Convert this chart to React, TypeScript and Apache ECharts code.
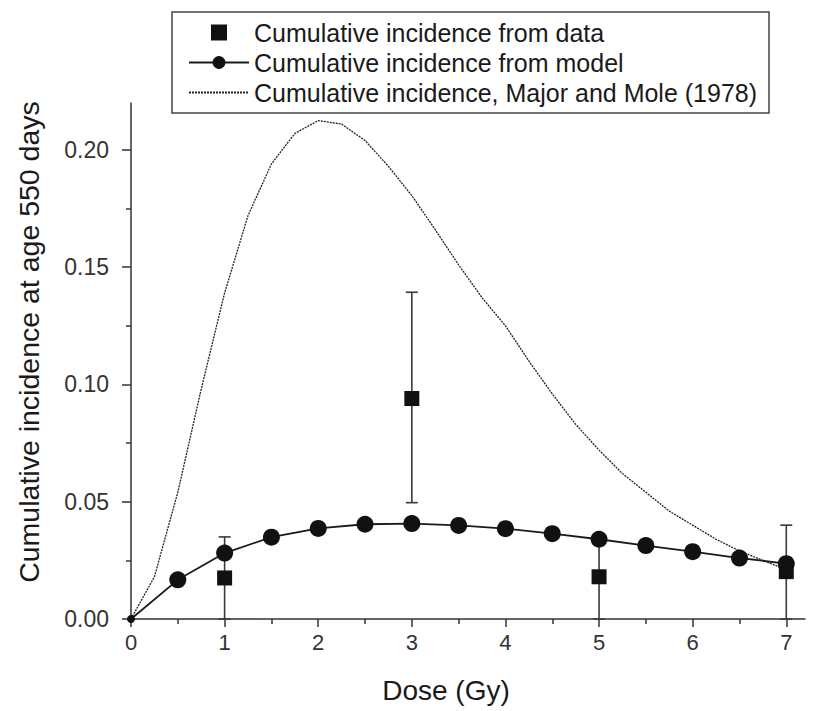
import React, { useEffect, useRef } from "react";
import * as echarts from "echarts";

// Observed data (squares with error bars)
const dataDose = [1, 3, 5, 7];
const dataIncidence = [0.0175, 0.094, 0.018, 0.0202];
const dataLow = [0, 0.0496, 0, 0];
const dataHigh = [0.035, 0.1393, 0.034, 0.0400];

// Model (circles)
const modelDose = [0, 0.5, 1, 1.5, 2, 2.5, 3, 3.5, 4, 4.5, 5, 5.5, 6, 6.5, 7];
const modelIncidence = [0, 0.0167, 0.0281, 0.0349, 0.0386, 0.0404, 0.0407, 0.0399, 0.0385, 0.0364, 0.0340, 0.0313, 0.0287, 0.0260, 0.0236];

// Major and Mole (1978) curve
const mmDose = [0, 0.25, 0.5, 0.75, 1, 1.25, 1.5, 1.75, 2, 2.25, 2.5, 2.75, 3, 3.25, 3.5, 3.75, 4, 4.25, 4.5, 4.75, 5, 5.25, 5.5, 5.75, 6, 6.25, 6.5, 6.75, 7];
const mmIncidence = [0, 0.018, 0.054, 0.098, 0.139, 0.172, 0.194, 0.207, 0.2125, 0.211, 0.204, 0.193, 0.1805, 0.166, 0.151, 0.137, 0.125, 0.110, 0.096, 0.083, 0.072, 0.062, 0.054, 0.046, 0.040, 0.034, 0.029, 0.025, 0.021];

const xMajor = [0, 1, 2, 3, 4, 5, 6, 7];
const xMinor = [0.5, 1.5, 2.5, 3.5, 4.5, 5.5, 6.5];
const yMajor = [0, 0.05, 0.1, 0.15, 0.2];
const yMinor = [0.025, 0.075, 0.125, 0.175];

const S1 = "Cumulative incidence from data";
const S2 = "Cumulative incidence from model";
const S3 = "Cumulative incidence, Major and Mole (1978)";
const X_TITLE = "Dose (Gy)";
const Y_TITLE = "Cumulative incidence at age 550 days";

const FONT = "'Liberation Sans', Arial, Helvetica, sans-serif";
const INK = "#1a1a1a";
const AX = "#333";

export default function App() {
  const ref = useRef<HTMLDivElement>(null);
  useEffect(() => {
    if (!ref.current) return;
    const chart = echarts.init(ref.current, null, { renderer: "svg" });
    const errData = dataDose.map((d, i) => [d, dataLow[i], dataHigh[i]]);
    const axisLineStyle = { color: AX, width: 1.5 };
    chart.setOption({
      animation: false,
      backgroundColor: "#fff",
      textStyle: { fontFamily: FONT },
      grid: { left: 131, right: 21, top: 103, bottom: 92, containLabel: false },
      legend: {
        orient: "vertical",
        left: 172,
        top: 12,
        padding: [8, 12, 8, 16],
        itemWidth: 60,
        itemHeight: 16,
        itemGap: 5,
        borderColor: "#444",
        borderWidth: 1.5,
        textStyle: { fontSize: 25, color: INK, fontFamily: FONT },
        data: [
          { name: S1, icon: "path://M0 0H10V10H0Z" },
          { name: S2 },
          { name: S3, itemStyle: { opacity: 0 } },
        ],
      },
      graphic: [
        {
          type: "text",
          x: 446,
          y: 690,
          silent: true,
          style: {
            text: X_TITLE,
            font: `28px ${FONT}`,
            fill: INK,
            align: "center",
            verticalAlign: "middle",
            textAlign: "center",
            textVerticalAlign: "middle",
          },
        },
        {
          type: "text",
          x: 29,
          y: 342,
          rotation: Math.PI / 2,
          silent: true,
          style: {
            text: Y_TITLE,
            font: `28.5px ${FONT}`,
            fill: INK,
            align: "center",
            verticalAlign: "middle",
            textAlign: "center",
            textVerticalAlign: "middle",
          },
        },
      ],
      xAxis: [
        {
          type: "value",
          min: 0,
          max: 7.2,
          axisLine: { show: true, lineStyle: axisLineStyle },
          axisTick: { show: true, length: 8, customValues: xMajor, lineStyle: axisLineStyle },
          axisLabel: { customValues: xMajor, fontSize: 22, color: AX, margin: 12, fontFamily: FONT },
          splitLine: { show: false },
        },
        {
          type: "value",
          min: 0,
          max: 7.2,
          position: "bottom",
          axisLine: { show: false },
          axisTick: { show: true, length: 5, customValues: xMinor, lineStyle: axisLineStyle },
          axisLabel: { show: false },
          splitLine: { show: false },
        },
      ],
      yAxis: [
        {
          type: "value",
          min: 0,
          max: 0.22,
          axisLine: { show: true, lineStyle: axisLineStyle },
          axisTick: { show: true, length: 9, customValues: yMajor, lineStyle: axisLineStyle },
          axisLabel: {
            customValues: yMajor,
            fontSize: 23,
            color: AX,
            margin: 22,
            fontFamily: FONT,
            formatter: (v: number) => v.toFixed(2),
          },
          splitLine: { show: false },
        },
        {
          type: "value",
          min: 0,
          max: 0.22,
          position: "left",
          axisLine: { show: false },
          axisTick: { show: true, length: 5, customValues: yMinor, lineStyle: axisLineStyle },
          axisLabel: { show: false },
          splitLine: { show: false },
        },
      ],
      series: [
        {
          name: S3,
          type: "line",
          z: 1,
          showSymbol: false,
          symbol: "none",
          data: mmDose.map((d, i) => [d, mmIncidence[i]]),
          lineStyle: { color: "#222", width: 1.3, type: [2, 1] },
          itemStyle: { color: "#222" },
        },
        {
          name: "errors",
          type: "custom",
          z: 2,
          data: errData,
          encode: { x: 0, y: [1, 2] },
          renderItem: (params: any, api: any) => {
            const x = api.value(0);
            const lo = api.coord([x, api.value(1)]);
            const hi = api.coord([x, api.value(2)]);
            const cw = 6;
            const st = { stroke: "#3a3a3a", lineWidth: 1.6 };
            return {
              type: "group",
              children: [
                { type: "line", shape: { x1: lo[0], y1: lo[1], x2: hi[0], y2: hi[1] }, style: st },
                { type: "line", shape: { x1: hi[0] - cw, y1: hi[1], x2: hi[0] + cw, y2: hi[1] }, style: st },
                { type: "line", shape: { x1: lo[0] - cw, y1: lo[1], x2: lo[0] + cw, y2: lo[1] }, style: st },
              ],
            };
          },
        },
        {
          name: S2,
          type: "line",
          z: 3,
          symbol: "circle",
          symbolSize: 17,
          data: modelDose.map((d, i) =>
            i === 0 ? { value: [d, modelIncidence[i]], symbolSize: 8 } : [d, modelIncidence[i]]
          ),
          lineStyle: { color: INK, width: 1.8 },
          itemStyle: { color: "#111" },
        },
        {
          name: S1,
          type: "scatter",
          z: 4,
          symbol: "rect",
          symbolSize: 15,
          data: dataDose.map((d, i) => [d, dataIncidence[i]]),
          itemStyle: { color: "#111", opacity: 1 },
        },
      ],
    });
    return () => chart.dispose();
  }, []);
  return (
    <div
      ref={ref}
      style={{ position: "fixed", left: 0, top: 0, width: 826, height: 711, background: "#fff" }}
    />
  );
}
